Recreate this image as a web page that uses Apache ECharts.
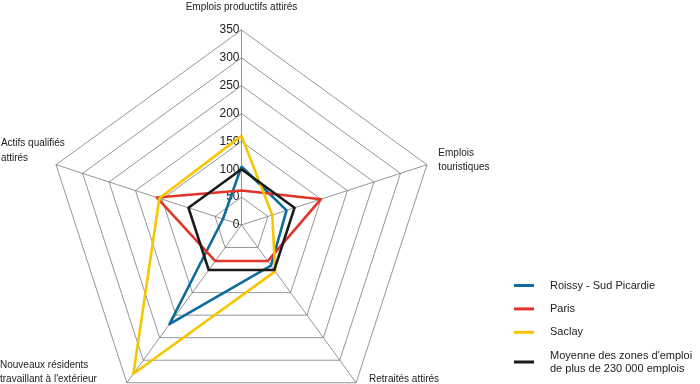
<!DOCTYPE html>
<html>
<head>
<meta charset="utf-8">
<script src="https://cdn.jsdelivr.net/npm/echarts@6/dist/echarts.min.js"></script>
<style>html,body{margin:0;padding:0;background:#fff}#c{width:700px;height:384px}</style>
</head>
<body>
<div id="c"></div>
<script>
// Indicators listed counter-clockwise starting at the top
const indicators = ["Emplois productifs attirés", "Actifs qualifiés\nattirés", "Nouveaux résidents\ntravaillant à l'extérieur", "Retraités attirés", "Emplois\ntouristiques"];
const axisMax = 350;
const seriesNames = ["Roissy - Sud Picardie", "Paris", "Saclay", "Moyenne des zones d'emploi\nde plus de 230 000 emplois"];
const roissy = [105, 35, 220, 90, 85];
const paris = [62, 160, 80, 80, 150];
const saclay = [160, 155, 330, 103, 58];
const moyenne = [100, 100, 100, 100, 100];
const colors = ["#0d6c9c", "#e2352a", "#f6c700", "#1a1a1a"];

const FONT = "'Liberation Sans Narrow', 'Liberation Sans', Arial, sans-serif";
const chart = echarts.init(document.getElementById('c'), null, {renderer: 'canvas'});
const values = [roissy, paris, saclay, moyenne];

// per-indicator name placement tweaks (style only)
const nameOpts = [
  {nameGap: 16, nameTextStyle: {align: 'center', verticalAlign: 'bottom'}},
  {nameGap: 58, nameTextStyle: {align: 'left', verticalAlign: 'middle', padding: [8, 0, 0, 0]}},
  {nameGap: 5, nameTextStyle: {align: 'right', verticalAlign: 'bottom', padding: [0, 27, 0, 0]}},
  {nameGap: 5, nameTextStyle: {align: 'left', verticalAlign: 'bottom', padding: [0, 0, 0, 10]}},
  {nameGap: 12, nameTextStyle: {align: 'left', verticalAlign: 'middle', padding: [0, 0, 2, 0]}}
];

const legendText = {fontSize: 11, color: '#222', fontFamily: FONT, lineHeight: 13, padding: [0, 0, 0, 11]};

chart.setOption({
  animation: false,
  color: colors,
  textStyle: {fontFamily: FONT},
  legend: [{
    orient: 'vertical',
    left: 514,
    top: 279,
    padding: 0,
    itemWidth: 20,
    itemHeight: 3,
    itemGap: 10.4,
    icon: 'rect',
    textStyle: legendText,
    data: seriesNames.slice(0, 3)
  }, {
    orient: 'vertical',
    left: 514,
    top: 349,
    padding: 0,
    itemWidth: 20,
    itemHeight: 3,
    icon: 'rect',
    textStyle: legendText,
    data: seriesNames.slice(3)
  }],
  radar: {
    center: [241.5, 225],
    radius: 195,
    startAngle: 90,
    splitNumber: 7,
    shape: 'polygon',
    nameGap: 12,
    axisName: {
      color: '#222', fontSize: 10, fontFamily: FONT, lineHeight: 14.3,
      formatter: (name) => name.split('\n').map(l => '{l|' + l + '}').join('\n'),
      rich: {l: {align: 'left', fontSize: 10, fontFamily: FONT, lineHeight: 14.3, color: '#222'}}
    },
    splitArea: {show: false},
    splitLine: {lineStyle: {color: '#7a7a7a', width: 0.8}},
    axisLine: {lineStyle: {color: '#7a7a7a', width: 0.8}},
    axisTick: {show: false},
    axisLabel: {show: false},
    indicator: indicators.map((n, i) => {
      const o = Object.assign({name: n, min: 0, max: axisMax}, nameOpts[i]);
      if (i === 0) o.axisLabel = {show: true, color: '#222', fontSize: 12, fontFamily: FONT, margin: 2};
      return o;
    })
  },
  series: [{
    type: 'radar',
    symbol: 'none',
    lineStyle: {width: 2.6},
    data: values.map((v, i) => ({
      name: seriesNames[i],
      value: v,
      lineStyle: {color: colors[i], width: 2.6},
      itemStyle: {color: colors[i]}
    }))
  }]
});
</script>
</body>
</html>
